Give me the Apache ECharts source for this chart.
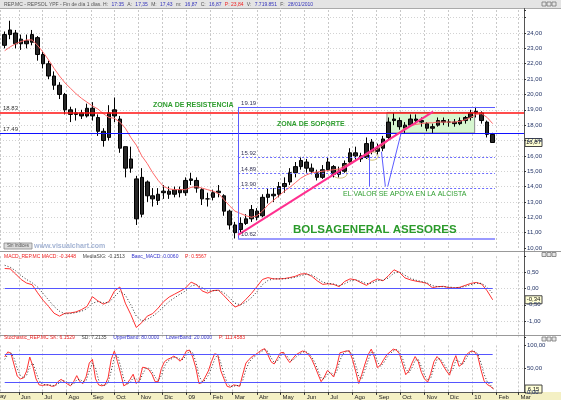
<!DOCTYPE html>
<html>
<head>
<meta charset="utf-8">
<script src="https://cdn.jsdelivr.net/npm/echarts@6/dist/echarts.min.js"></script>
<style>
html, body { margin: 0; padding: 0; background: #fff; }
#chart { width: 561px; height: 400px; }
</style>
</head>
<body>
<div id="chart"></div>
<script>
// weekly price bars (week of 2008-05-12 .. week of 2010-01-25)
var priceOpen = [23.2,23.9,24.0,23.3,23.5,23.4,23.7,22.6,22.0,21.2, 20.6,20.0,19.0,18.7,18.8,18.6,19.1,18.5,17.6,17.2,
  19.0,18.4,16.6,15.2,14.5,12.2,14.3,13.4,13.1,13.6, 13.7,13.5,13.8,13.6,14.4,14.4,13.8,13.2,13.3,13.7,
  13.4,12.4,11.5,11.2,11.6,11.9,12.4,12.1,13.3,13.5, 13.5,14.0,14.3,14.9,15.3,15.6,15.2,14.9,14.6,15.1,
  15.3,14.8,15.0,15.6,16.2,16.0,15.9,16.9,16.3,16.5, 17.2,18.3,18.3,17.8,18.0,18.4,18.3,18.1,17.8,18.0,
  18.3,18.2,18.2,18.1,18.3,18.5,18.8,18.8,18.2,17.4];
var priceClose = [23.9,24.2,23.3,23.6,23.3,23.9,22.6,22.0,21.2,20.6, 20.0,19.0,18.7,18.8,18.6,19.1,18.6,17.6,17.0,18.8,
  18.6,16.5,15.2,15.8,11.9,14.6,13.4,13.2,13.5,13.7, 13.5,13.8,13.6,14.4,14.5,13.9,13.2,13.2,13.6,13.6,
  12.4,11.5,11.0,11.6,11.9,12.5,12.0,13.3,13.5,13.4, 14.0,14.2,14.9,15.3,15.7,15.2,15.0,14.6,15.1,15.6,
  14.8,15.0,15.5,16.2,16.0,15.8,16.8,16.3,16.5,17.1, 18.2,18.4,17.9,18.0,18.4,18.3,18.2,17.8,17.9,18.3,
  18.2,18.2,18.1,18.3,18.5,18.8,18.9,18.3,17.4,16.87];
var priceLow = [23.0,23.6,23.0,22.9,23.0,23.2,22.2,21.7,21.0,20.3, 19.7,18.7,18.2,18.3,18.4,18.5,18.3,17.3,16.6,17.0,
  18.2,16.2,14.6,14.9,11.5,12.0,13.0,12.7,12.8,13.2, 13.2,13.3,13.3,13.4,14.1,13.6,12.8,12.7,13.1,13.3,
  12.1,11.2,10.62,11.0,11.5,11.7,11.8,12.0,12.9,13.0, 13.3,13.6,14.1,14.6,15.1,14.9,14.8,14.4,14.5,15.0,
  14.6,14.6,14.9,15.5,15.7,15.6,15.8,16.1,16.1,16.3, 17.1,18.0,17.7,17.5,17.9,18.1,17.9,17.6,17.5,17.9,
  18.0,17.9,17.9,18.0,18.1,18.3,18.5,18.1,17.2,16.85];
var priceHigh = [24.1,24.8,24.2,23.9,23.9,24.2,23.8,22.8,22.2,21.5, 20.8,20.1,19.2,19.1,19.0,19.4,19.5,18.7,17.8,19.3,
  19.8,18.6,16.6,16.6,14.7,15.2,14.4,13.9,13.9,14.1, 14.0,14.0,14.0,14.6,14.9,14.6,13.9,13.6,13.8,14.1,
  13.5,12.5,11.7,12.0,12.2,12.8,12.6,13.5,13.9,13.9, 14.3,14.6,15.2,15.6,15.9,15.8,15.5,15.1,15.4,15.9,
  15.4,15.3,15.7,16.5,16.6,16.2,17.2,17.1,16.8,17.3, 18.5,18.8,18.5,18.2,18.7,18.7,18.5,18.2,18.1,18.5,
  18.5,18.4,18.4,18.5,18.6,19.0,19.19,18.9,18.3,17.5];
var movAvg = [22.85,23.1,23.3,23.45,23.55,23.55,23.2,22.75,22.25,21.7, 21.2,20.75,20.4,20.05,19.75,19.5,19.25,19.05,18.75,18.5,
  18.45,18.2,17.8,17.2,16.7,16.0,15.5,14.9,14.4,14.0, 13.85,13.8,13.8,13.8,13.95,14.0,13.9,13.8,13.7,13.55,
  13.15,12.75,12.4,12.25,12.1,12.0,12.1,12.4,12.8,13.1, 13.4,13.7,13.95,14.25,14.55,14.75,14.9,14.95,15.0,15.05,
  15.1,15.15,15.35,15.55,15.75,15.9,16.05,16.25,16.45,16.7, 17.0,17.3,17.55,17.8,17.95,18.05,18.1,18.15,18.15,18.2,
  18.2,18.2,18.2,18.25,18.35,18.5,18.7,18.75,18.5,18.1];

// MACD, weekly
var macdLine = [0.62,0.61,0.45,0.28,0.17,0.12,-0.13,-0.36,-0.55,-0.76, -0.85,-0.76,-0.75,-0.72,-0.65,-0.55,-0.25,-0.38,-0.48,-0.4,
  -0.08,0.05,-0.45,-0.8,-1.2,-1.05,-0.85,-0.77,-0.6,-0.4, -0.26,-0.17,-0.08,0.02,0.2,0.12,-0.07,-0.14,-0.06,-0.05,
  -0.22,-0.4,-0.57,-0.5,-0.33,-0.15,0.06,0.28,0.34,0.3, 0.3,0.31,0.34,0.38,0.45,0.46,0.38,0.24,0.13,0.15,
  0.13,0.06,0.22,0.3,0.27,0.18,0.1,0.22,0.3,0.24, 0.4,0.58,0.5,0.33,0.27,0.23,0.2,0.16,0.03,0.06,
  0.07,0.03,0.02,0.04,0.1,0.16,0.19,0.14,-0.07,-0.3448];
var macdSignal = [0.72,0.66,0.55,0.4,0.28,0.18,0.05,-0.15,-0.35,-0.55, -0.7,-0.78,-0.77,-0.74,-0.7,-0.62,-0.45,-0.4,-0.44,-0.43,
  -0.25,-0.08,-0.2,-0.5,-0.85,-1.0,-0.95,-0.85,-0.72,-0.55, -0.4,-0.28,-0.17,-0.07,0.08,0.12,0.03,-0.07,-0.07,-0.05,
  -0.13,-0.28,-0.45,-0.5,-0.42,-0.28,-0.1,0.12,0.25,0.3, 0.3,0.3,0.32,0.35,0.4,0.44,0.42,0.32,0.2,0.16,
  0.14,0.09,0.15,0.24,0.27,0.22,0.15,0.17,0.25,0.26, 0.33,0.48,0.52,0.41,0.32,0.26,0.22,0.18,0.09,0.06,
  0.06,0.05,0.03,0.03,0.07,0.12,0.17,0.16,0.04,-0.1513];

// Stochastic, every 4 days
var stochK = [75,86,83,58,34,28,30,45,75,55, 28,15,14,15,15,12,13,22,27,22, 17,13,22,35,22,18,33,62,70,28,
  15,13,15,30,70,88,65,40,13,17, 27,38,18,25,53,52,48,38,22,22, 50,65,70,73,77,72,66,75,88,90,
  75,52,18,20,32,45,65,82,80,45, 28,12,10,15,14,12,38,62,70,76, 80,85,90,93,80,65,60,72,84,85,
  72,63,72,80,84,88,86,80,70,55, 38,22,32,46,40,32,55,84,86,88, 88,70,45,18,38,60,80,92,75,52,
  58,70,80,86,92,90,82,60,37,45, 62,76,65,42,28,21,40,65,76,68, 56,45,36,62,78,55,60,76,84,88,
  86,77,48,24,16,12,6.15];
var stochD = [70,80,84,72,50,35,30,36,55,62, 42,24,17,15,15,14,13,17,23,24, 20,16,17,26,27,22,25,45,62,50,
  25,15,14,20,45,75,78,55,28,16, 20,30,28,22,38,50,51,44,32,24, 35,55,66,70,74,74,70,70,80,88,
  84,65,35,22,25,36,52,70,81,62, 38,20,12,12,14,13,25,48,64,72, 77,82,87,91,87,74,63,66,77,84,
  78,68,68,75,81,85,87,83,75,63, 46,30,28,38,43,36,44,68,82,87, 88,80,58,32,28,48,68,85,84,64,
  55,63,74,82,88,91,86,72,50,41, 52,68,70,54,36,25,30,52,70,72, 62,51,41,48,68,66,58,68,80,86,
  87,82,63,38,22,15,7.21];

var resistLevel = 18.83, supportLevel = 17.49;
var fibLevels = [19.19, 15.92, 14.89, 13.90, 10.62];
var monthNames = ['', 'Feb', 'Mar', 'Abr', 'May', 'Jun', 'Jul', 'Ago', 'Sep', 'Oct', 'Nov', 'Dic'];

function day(y, m, d) { return new Date(y, m - 1, d).getTime(); }
var DAY = 86400000;
var xMin = day(2008, 5, 8), xMax = day(2010, 3, 8);

var weekDates = [];
for (var k = 0; k < priceOpen.length; k++) weekDates.push(new Date(2008, 4, 14 + 7 * k).getTime());
var stochDates = [];
for (var i = 0; i < stochK.length; i++) stochDates.push(new Date(2008, 4, 14 + 4 * i).getTime());

var fibStart = day(2009, 3, 8), fibEnd = day(2010, 1, 30);
var trendFrom = [day(2009, 3, 8), 10.85], trendTo = [day(2009, 11, 12), 18.88];
var zoneFrom = day(2009, 9, 14), zoneTo = day(2010, 1, 4);
var firstDate = weekDates[0], lastDate = weekDates[weekDates.length - 1];

function zip(d, v) { return d.map(function (t, i) { return [t, v[i]]; }); }
function f2(v) { return v.toFixed(2).replace('.', ','); }
function monthLabel(v) {
  var d = new Date(v);
  if (d.getMonth() === 0) return String(d.getFullYear()).slice(2);
  return monthNames[d.getMonth()];
}

var candles = weekDates.map(function (t, i) {
  return [t, priceOpen[i], priceClose[i], priceLow[i], priceHigh[i]];
});

function xAx(idx, last) {
  return {
    type: 'time', gridIndex: idx, min: xMin, max: xMax,
    minInterval: 28 * DAY, maxInterval: 31 * DAY,
    axisLine: { show: last, lineStyle: { color: '#555' } },
    axisTick: { show: last, length: 3, lineStyle: { color: '#333' } },
    axisLabel: {
      show: last, fontSize: 6, color: '#222', align: 'left', margin: 2,
      padding: [0, 0, 0, 2], formatter: monthLabel, showMinLabel: false, showMaxLabel: false
    },
    splitLine: { show: true, lineStyle: { color: '#c8c8c8', type: [2, 2] } }
  };
}

function yAx(idx, min, max, step, hideFn) {
  return {
    type: 'value', gridIndex: idx, position: 'right', min: min, max: max, interval: step,
    axisLine: { show: true, lineStyle: { color: '#555' } },
    axisTick: { show: true, length: 2, lineStyle: { color: '#333' } },
    axisLabel: {
      fontSize: 6, color: '#223366', margin: 3,
      formatter: function (v) { return hideFn(v) ? '' : f2(v); }
    },
    splitLine: { show: true, showMinLine: false, showMaxLine: false, lineStyle: { color: '#d2d2d2', type: [1, 2] } }
  };
}

var chart = echarts.init(document.getElementById('chart'));

var thinBlue = { color: '#5c5cff', width: 1, type: 'solid' };
var fibDot = { color: '#6a6aff', width: 1, type: [2, 2] };

var option = {
  animation: false,
  backgroundColor: '#ffffff',
  grid: [
    { left: 0, right: 37, top: 10, bottom: 152 },
    { left: 0, right: 37, top: 256.2, bottom: 62.8 },
    { left: 0, right: 37, top: 345.4, bottom: 8.1 }
  ],
  xAxis: [xAx(0, false), xAx(1, false), xAx(2, true)],
  yAxis: [
    yAx(0, 10, 25.5, 1, function (v) { return v > 24.5; }),
    yAx(1, -1.5, 1, 0.5, function (v) { return v < -1.2 || v > 0.8; }),
    yAx(2, 0, 100, 50, function (v) { return false; })
  ],
  series: [
    {
      type: 'candlestick', xAxisIndex: 0, yAxisIndex: 0, barWidth: 4,
      data: candles, encode: { x: 0, y: [1, 2, 3, 4] },
      itemStyle: { color: '#262626', color0: '#262626', borderColor: '#000', borderColor0: '#000', borderWidth: 1 },
      markArea: {
        silent: true,
        itemStyle: { color: '#d6f6cf', borderColor: '#8a8a8a', borderWidth: 1 },
        data: [[{ coord: [zoneFrom, resistLevel] }, { coord: [zoneTo, supportLevel] }]]
      }
    },
    {
      type: 'line', xAxisIndex: 0, yAxisIndex: 0, data: zip(weekDates, movAvg),
      showSymbol: false, lineStyle: { color: '#ff6a6a', width: 1 },
      markLine: {
        silent: true, symbol: ['none', 'none'], animation: false,
        label: { show: false },
        data: [
          { yAxis: resistLevel, lineStyle: { color: '#ff1010', width: 1.5, type: 'solid' },
            label: { show: true, position: 'insideStartTop', formatter: '18.83', fontSize: 6, color: '#333', distance: [3, 1] } },
          { yAxis: supportLevel, lineStyle: { color: '#1010ff', width: 1.2, type: 'solid' },
            label: { show: true, position: 'insideStartTop', formatter: '17.49', fontSize: 6, color: '#333', distance: [3, 1] } },
          [{ coord: [fibStart, fibLevels[0]], lineStyle: thinBlue,
             label: { show: true, position: 'insideStartTop', formatter: '19.19', fontSize: 6, color: '#335', distance: [3, 1] } },
           { coord: [fibEnd, fibLevels[0]] }],
          [{ coord: [fibStart, fibLevels[1]], lineStyle: fibDot,
             label: { show: true, position: 'insideStartTop', formatter: '15.92', fontSize: 6, color: '#335', distance: [3, 1] } },
           { coord: [fibEnd, fibLevels[1]] }],
          [{ coord: [fibStart, fibLevels[2]], lineStyle: fibDot,
             label: { show: true, position: 'insideStartTop', formatter: '14.89', fontSize: 6, color: '#335', distance: [3, 1] } },
           { coord: [fibEnd, fibLevels[2]] }],
          [{ coord: [fibStart, fibLevels[3]], lineStyle: fibDot,
             label: { show: true, position: 'insideStartTop', formatter: '13.90', fontSize: 6, color: '#335', distance: [3, 1] } },
           { coord: [fibEnd, fibLevels[3]] }],
          [{ coord: [fibStart, fibLevels[4]], lineStyle: { color: '#9a9aff', width: 2, type: 'solid' },
             label: { show: true, position: 'insideStartTop', formatter: '10.62', fontSize: 6, color: '#335', distance: [3, 1] } },
           { coord: [fibEnd, fibLevels[4]] }],
          [{ coord: [fibStart, fibLevels[4]], lineStyle: thinBlue }, { coord: [fibStart, fibLevels[0]] }],
          [{ coord: trendFrom, lineStyle: { color: '#ff2f8f', width: 2, type: 'solid' } }, { coord: trendTo }],
          [{ coord: [day(2009, 8, 22), 14.0], lineStyle: thinBlue }, { coord: [day(2009, 8, 22), 16.06] }],
          [{ coord: [day(2009, 9, 12), 14.0], lineStyle: thinBlue }, { coord: [day(2009, 9, 7), 16.27] }],
          [{ coord: [day(2009, 9, 15), 14.0], lineStyle: thinBlue }, { coord: [day(2009, 10, 2), 17.47] }]
        ]
      }
    },
    {
      type: 'line', xAxisIndex: 1, yAxisIndex: 1, data: zip(weekDates, macdLine),
      showSymbol: false, lineStyle: { color: '#ff3030', width: 1 },
      markLine: {
        silent: true, symbol: ['none', 'none'], label: { show: false },
        data: [[{ coord: [firstDate, 0], lineStyle: { color: '#5555ff', width: 1, type: 'solid' } }, { coord: [lastDate, 0] }]]
      }
    },
    {
      type: 'line', xAxisIndex: 1, yAxisIndex: 1, data: zip(weekDates, macdSignal),
      showSymbol: false, lineStyle: { color: '#333', width: 1, type: [1, 2] }
    },
    {
      type: 'line', xAxisIndex: 2, yAxisIndex: 2, data: zip(stochDates, stochK),
      showSymbol: false, lineStyle: { color: '#ff3030', width: 1 },
      markLine: {
        silent: true, symbol: ['none', 'none'], label: { show: false },
        data: [
          [{ coord: [firstDate, 80], lineStyle: { color: '#5555ff', width: 1, type: 'solid' } }, { coord: [lastDate, 80] }],
          [{ coord: [firstDate, 20], lineStyle: { color: '#5555ff', width: 1, type: 'solid' } }, { coord: [lastDate, 20] }]
        ]
      }
    },
    {
      type: 'line', xAxisIndex: 2, yAxisIndex: 2, data: zip(stochDates, stochD),
      showSymbol: false, lineStyle: { color: '#333', width: 1, type: [1, 2] }
    }
  ]
};
chart.setOption(option);

function px(g, t, v) { return chart.convertToPixel({ gridIndex: g }, [t, v]); }
function valueBox(g, v, label) {
  var y = px(g, xMax, v)[1];
  return {
    type: 'group', children: [
      { type: 'rect', shape: { x: 525, y: y - 4, width: 17, height: 8 }, style: { fill: '#ffffd6', stroke: '#444', lineWidth: 1 } },
      { type: 'text', x: 533.5, y: y, style: { text: label, fontSize: 6, fill: '#111', align: 'center', verticalAlign: 'middle' } }
    ]
  };
}
function winButtons(y) {
  return [542, 547, 552].map(function (x) {
    return { type: 'rect', shape: { x: x, y: y, width: 4, height: 4 }, style: { fill: '#e6e6e6', stroke: '#777', lineWidth: 0.8 } };
  });
}
var e1 = px(0, day(2009, 7, 16), 14.82), e2 = px(0, day(2009, 8, 26), 15.99);
var green = '#2f9e2f';

var graphics = [
  { type: 'rect', shape: { x: 0, y: 0, width: 561, height: 8 }, style: { fill: '#e4e4e4' } },
  { type: 'line', shape: { x1: 0, y1: 8.5, x2: 561, y2: 8.5 }, style: { stroke: '#aaa' } },
  { type: 'text', x: 4, y: 4.5, style: {
      text: '{k|REP.MC - REPSOL YPF - Fin de día 1 días. H:} {b|17:35} {k|A:} {b|17,35} {k|M:} {b|17,43} {k|m:} {b|16,87} {k|C:} {b|16,87} {r|P: 23,84} {k|V:} {b|7.719.851} {k|F:} {b|28/01/2010}',
      verticalAlign: 'middle',
      rich: { k: { fill: '#555', fontSize: 5 }, b: { fill: '#3333bb', fontSize: 5 }, r: { fill: '#ee2222', fontSize: 5 } } } },
  { type: 'rect', shape: { x: 0, y: 392, width: 561, height: 8 }, style: { fill: '#f4f0c4' }, z: -10 },
  { type: 'line', shape: { x1: 0, y1: 251.5, x2: 561, y2: 251.5 }, style: { stroke: '#999' } },
  { type: 'line', shape: { x1: 0, y1: 335.5, x2: 561, y2: 335.5 }, style: { stroke: '#999' } },
  { type: 'line', shape: { x1: 524.5, y1: 8, x2: 524.5, y2: 392 }, style: { stroke: '#555' } },
  { type: 'text', x: 0, y: 396, style: { text: 'ay', fontSize: 6, fill: '#222', verticalAlign: 'middle' } },
  { type: 'text', x: 4, y: 256.5, style: {
      text: '{r|MACD_REP.MC MACD: -0.3448}  {k|MediaSIG: -0.1513}  {b|Banc_MACD: 0.0060}  {r|P: 0.5567}',
      verticalAlign: 'middle',
      rich: { r: { fill: '#ee2222', fontSize: 5 }, k: { fill: '#444', fontSize: 5 }, b: { fill: '#3333cc', fontSize: 5 } } } },
  { type: 'text', x: 4, y: 337.5, style: {
      text: '{r|Stochastic_REP.MC SK: 6.1529}  {k|SD: 7.2135}  {b|UpperBand: 80.0000}  {b|LowerBand: 20.0000}  {r|P: 111.4583}',
      verticalAlign: 'middle',
      rich: { r: { fill: '#ee2222', fontSize: 5 }, k: { fill: '#444', fontSize: 5 }, b: { fill: '#3333cc', fontSize: 5 } } } },
  { type: 'text', x: 153, y: 105.5, style: { text: 'ZONA DE RESISTENCIA', fontSize: 7, fontWeight: 'bold', fill: green, verticalAlign: 'middle' } },
  { type: 'text', x: 277, y: 124, style: { text: 'ZONA DE SOPORTE', fontSize: 7, fontWeight: 'bold', fill: green, verticalAlign: 'middle' } },
  { type: 'text', x: 343, y: 194, style: { text: 'EL VALOR SE APOYA EN LA ALCISTA', fontSize: 7, fill: green, verticalAlign: 'middle' } },
  { type: 'text', x: 293, y: 230, style: { text: 'BOLSAGENERAL ASESORES', fontSize: 11.5, fontWeight: 'bold', fill: '#2a9a2a', verticalAlign: 'middle' } },
  { type: 'circle', x: e1[0], y: e1[1], scaleY: 0.6, shape: { cx: 0, cy: 0, r: 7 }, style: { fill: 'none', stroke: '#c8b860', lineWidth: 1 } },
  { type: 'circle', x: e2[0], y: e2[1], scaleY: 0.7, shape: { cx: 0, cy: 0, r: 6 }, style: { fill: 'none', stroke: '#c8b860', lineWidth: 1 } },
  { type: 'rect', shape: { x: 4, y: 243, width: 28, height: 6 }, style: { fill: '#dcdcdc', stroke: '#888', lineWidth: 0.8 } },
  { type: 'text', x: 18, y: 246, style: { text: 'Sin índices', fontSize: 4.5, fill: '#555', align: 'center', verticalAlign: 'middle' } },
  { type: 'text', x: 34, y: 246, style: { text: 'www.visualchart.com', fontSize: 7, fontWeight: 'bold', fill: '#a4b4d4', verticalAlign: 'middle' } },
  valueBox(0, 16.87, '16,87'),
  valueBox(1, -0.3448, '-0,34'),
  valueBox(2, 6.15, '6,15')
].concat(winButtons(2), winButtons(252.5), winButtons(337));

chart.setOption({ graphic: graphics });

window.addEventListener('resize', function () {
  chart.resize();
});
</script>
</body>
</html>
